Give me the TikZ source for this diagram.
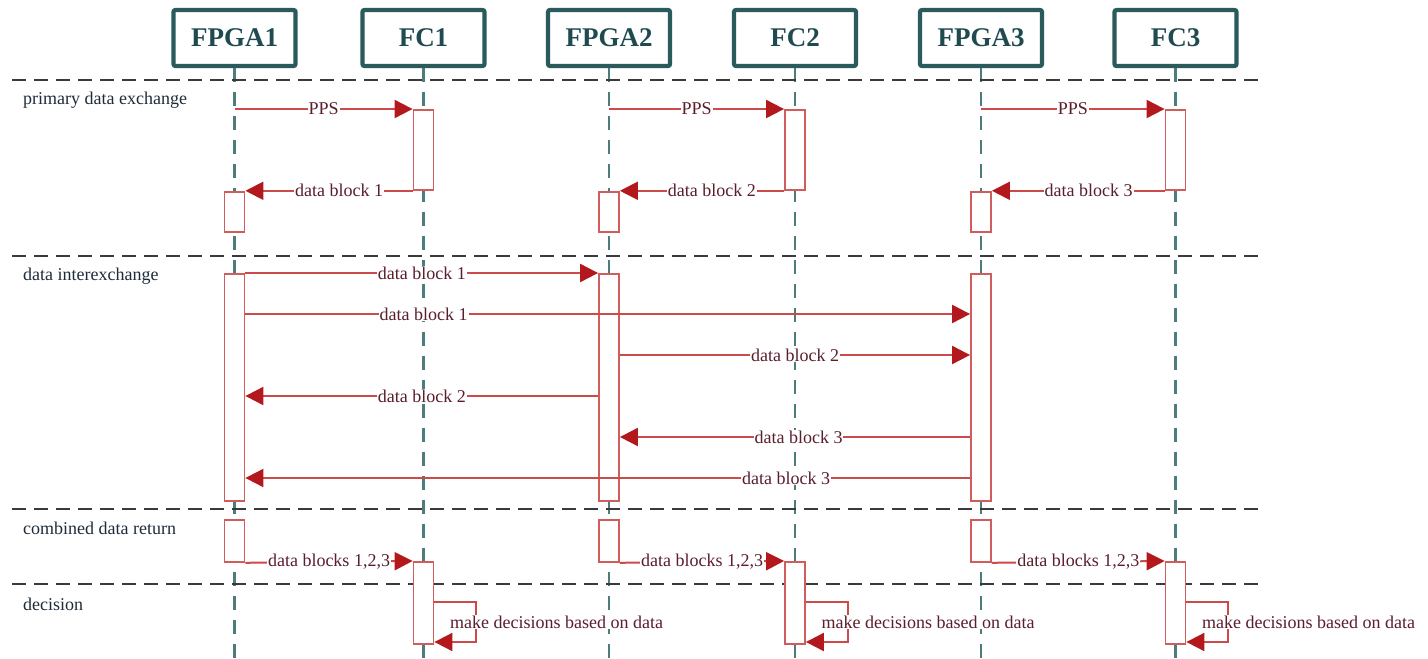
\documentclass[tikz,border=0pt]{standalone}
\usepackage{fontspec}
\setmainfont{Liberation Serif}
\usetikzlibrary{arrows.meta,calc}
\definecolor{headc}{HTML}{2A5A5C}
\definecolor{headtxt}{HTML}{1E4A50}
\definecolor{lifec}{HTML}{4C7C7C}
\definecolor{sepc}{HTML}{3A3A3A}
\definecolor{msgc}{HTML}{CC4A4A}
\definecolor{tipc}{HTML}{B3181C}
\definecolor{actc}{HTML}{D05C5C}
\definecolor{lbltxt}{HTML}{5A1E2C}
\definecolor{sectxt}{HTML}{1E2C3A}
\begin{document}
\begin{tikzpicture}[x=1pt,y=-1pt,
  head/.style={draw=headc, line width=4.2pt, rounded corners=2pt, fill=white,
    minimum width=122, minimum height=56, inner sep=0,
    font=\fontsize{27}{29}\selectfont\bfseries, text=headtxt},
  life/.style={draw=lifec, line width=2.6pt, dash pattern=on 14pt off 10pt},
  sep/.style={draw=sepc, line width=2.8pt, dash pattern=on 14pt off 8pt},
  act/.style={draw=actc, fill=white, line width=1.8pt, minimum width=20,
    inner sep=0, anchor=north},
  msg/.style={draw=msgc, line width=2pt,
    -{Triangle[length=18pt,width=18pt,color=tipc]}},
  lbl/.style={fill=white, inner sep=1pt, text=lbltxt,
    font=\fontsize{18}{20}\selectfont},
  sect/.style={anchor=west, inner sep=0, text=sectxt,
    font=\fontsize{18}{20}\selectfont}]
\useasboundingbox (0,0) rectangle (1428,659);

% lane headers
\foreach \n/\x/\t in {h1/234.5/FPGA1, h2/423.5/FC1, h3/609/FPGA2,
                      h4/795/FC2, h5/981/FPGA3, h6/1175.5/FC3}
  \node[head] (\n) at (\x,38) {\t};

% lifelines
\foreach \n in {h1,h2,h3,h4,h5,h6}
  \draw[life] (\n.south) -- (\n.south |- 0,659);

% phase separators
\foreach \k/\y in {1/80, 2/256, 3/509, 4/584} {
  \coordinate (s\k l) at (12,\y);
  \coordinate (s\k r) at (1258,\y);
  \draw[sep] (s\k l) -- (s\k r);
}

% phase titles
\node[sect] (t1) at (23,100) {primary data exchange};
\node[sect] (t2) at (23,276) {data interexchange};
\node[sect] (t3) at (23,528) {combined data return};
\node[sect] (t4) at (23,604) {decision};

% primary data exchange and combined data return, one FPGA/FC pair each
\foreach \i/\fp/\fc in {1/h1/h2, 2/h3/h4, 3/h5/h6} {
  \node[act, minimum height=80] (pc\i) at ($(\fc.south |- 0,109)$) {};
  \node[act, minimum height=40] (pf\i) at ($(\fp.south |- 0,191)$) {};
  \draw[msg] (\fp.south |- pc\i.north) -- node[lbl]{PPS} (pc\i.north west);
  \draw[msg] (pc\i.south west) -- node[lbl,pos=0.44]{data block \i}
    (pf\i.east |- pc\i.south);

  \node[act, minimum height=42] (cf\i) at ($(\fp.south |- 0,519)$) {};
  \node[act, minimum height=82] (cc\i) at ($(\fc.south |- 0,561)$) {};
  \draw[msg] (cf\i.south east) -- node[lbl]{data blocks 1,2,3} (cc\i.north west);

  % self message on the FC
  \coordinate (lp\i a) at ($(cc\i.east |- 0,602)$);
  \coordinate (lp\i b) at ($(cc\i.east |- 0,642)$);
  \draw[msg] (lp\i a) -- ++(42,0) -- ++(0,40) -- (lp\i b);
  \node[lbl, anchor=west, inner sep=0.5pt] (dl\i) at ($(lp\i a)+(15,20)$)
    {make decisions based on data};
}

% data interexchange activations
\foreach \i/\fp in {1/h1, 2/h3, 3/h5}
  \node[act, minimum height=227] (ia\i) at ($(\fp.south |- 0,273)$) {};

\draw[msg] (ia1.north east) -- node[lbl]{data block 1} (ia2.north west);
\draw[msg] (ia1.east |- 0,314) -- node[lbl,pos=0.246]{data block 1} (ia3.west |- 0,314);
\draw[msg] (ia2.east |- 0,355) -- node[lbl]{data block 2} (ia3.west |- 0,355);
\draw[msg] (ia2.west |- 0,396) -- node[lbl]{data block 2} (ia1.east |- 0,396);
\draw[msg] (ia3.west |- 0,437) -- node[lbl,pos=0.49]{data block 3} (ia2.east |- 0,437);
\draw[msg] (ia3.west |- 0,478) -- node[lbl,pos=0.254]{data block 3} (ia1.east |- 0,478);
\end{tikzpicture}
\end{document}
